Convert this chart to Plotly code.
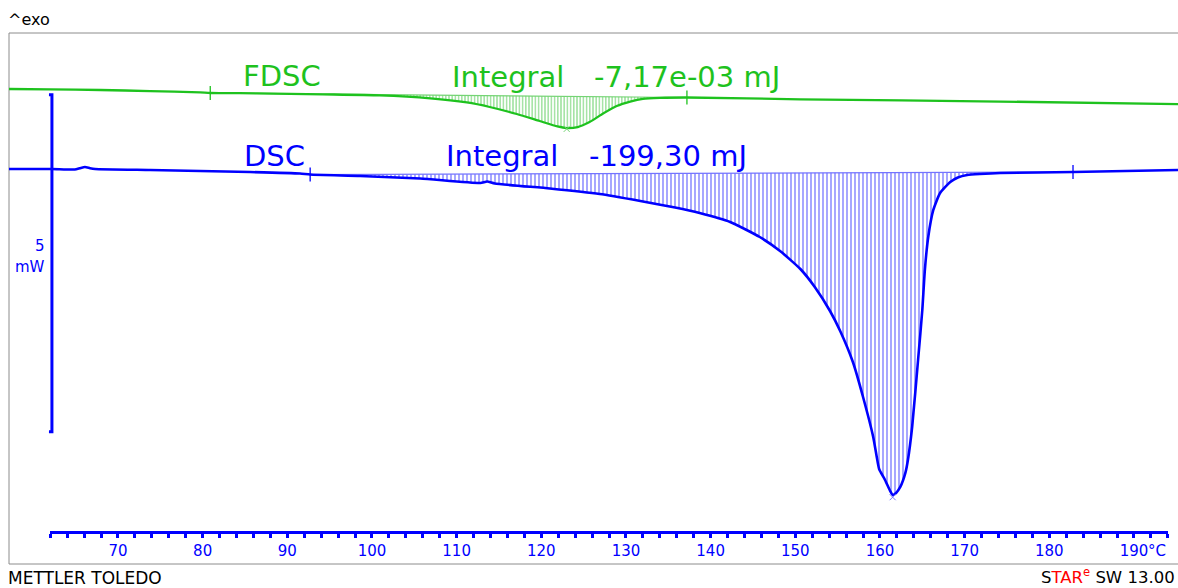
import numpy as np
import plotly.graph_objects as go

# ---------------- data (temperature in °C, heat flow in mW, curves shown with display offsets) -------------
DSC_T = [57.13, 62.2, 64.9, 65.5, 66.1, 66.7, 67.3, 73.8, 79.7, 85.6, 91.5, 92.7, 98.6, 105.7,
         112.8, 113.6, 114.5, 121.0, 126.9, 131.7, 135.8, 138.7, 142.3, 145.8, 148.2, 150.6,
         152.3, 154.1, 155.3, 156.8, 158.0, 159.2, 159.6, 159.9, 160.6, 161.2, 161.5, 161.9,
         162.4, 163.0, 163.3, 163.8, 164.5, 165.0, 165.3, 165.7, 166.3, 167.1, 168.3, 169.2,
         170.3, 171.8, 174.2, 182.8, 195.2]
DSC_MW = [0.000, 0.000, -0.007, 0.012, 0.030, 0.012, 0.000, -0.015, -0.030, -0.045, -0.067,
          -0.082, -0.104, -0.141, -0.208, -0.186, -0.215, -0.289, -0.371, -0.475, -0.571,
          -0.653, -0.786, -1.009, -1.217, -1.484, -1.751, -2.107, -2.404, -2.864, -3.383,
          -3.976, -4.258, -4.451, -4.614, -4.777, -4.837, -4.807, -4.718, -4.510, -4.318,
          -3.828, -2.834, -2.092, -1.499, -1.009, -0.608, -0.356, -0.193, -0.126, -0.089,
          -0.074, -0.059, -0.045, -0.015]

FDSC_T = [57.13, 62.0, 67.9, 73.8, 79.7, 80.9, 86.4, 94.2, 100.9, 106.9, 111.2, 113.9, 117.1,
          119.8, 121.9, 123.0, 124.3, 125.7, 127.3, 128.9, 130.5, 132.0, 134.0, 137.2, 150.6,
          174.2, 195.2]
FDSC_MW = [1.187, 1.182, 1.172, 1.157, 1.138, 1.128, 1.123, 1.108, 1.093, 1.049, 0.987, 0.920,
           0.816, 0.712, 0.631, 0.608, 0.623, 0.697, 0.823, 0.935, 1.001, 1.042, 1.056, 1.061,
           1.034, 1.001, 0.964]

DSC_LIMITS_T = [92.7, 182.8]
DSC_LIMITS_MW = [-0.082, -0.045]
FDSC_LIMITS_T = [80.9, 137.2]
FDSC_LIMITS_MW = [1.128, 1.061]
DSC_PEAK_T, DSC_PEAK_MW = [161.5], [-4.87]
FDSC_PEAK_T, FDSC_PEAK_MW = [123.0], [0.595]

SCALE_T = 62.2
SCALE_TOP_MW = 1.10
SCALE_SPAN_MW = 5.0

X_TICK_START, X_TICK_END = 62, 194
X_MAJOR, X_MINOR = 10, 2

FDSC_LABEL = "FDSC"
FDSC_INTEGRAL = "-7,17e-03 mJ"
DSC_LABEL = "DSC"
DSC_INTEGRAL = "-199,30 mJ"

# ---------------- layout constants ----------------
W, H = 1178, 588
FL, FT, FB = 9, 33, 564          # frame left / top / bottom (px)
X_RANGE = [57.13, 195.2]
Y_RANGE = [-5.861, 2.018]
AXIS_MW = -5.386

BLUE = "#0000ff"
BLUE_LIGHT = "#7474ff"
GREEN = "#1ec21e"
GREEN_LIGHT = "#74d474"
FRAME = "#8c8c8c"


def px(x):
    return (x - FL) / (W - FL)


def py(y):
    return (FB - y) / (FB - FT)


def hatch_polygon(T, V, lim_t, lim_v):
    T = np.asarray(T)
    V = np.asarray(V)
    m = (T >= lim_t[0]) & (T <= lim_t[1])
    xs = [lim_t[0]] + list(T[m]) + [lim_t[1]]
    ys = [lim_v[0]] + list(V[m]) + [lim_v[1]]
    return xs, ys


fig = go.Figure()

# dummy trace carrying the temperature axis (drawn first so its subplot sits underneath)
fig.add_trace(go.Scatter(x=[X_TICK_START, X_TICK_END], y=[AXIS_MW, AXIS_MW], xaxis="x2",
                         mode="lines", line=dict(width=0), opacity=0,
                         showlegend=False, hoverinfo="skip"))

# hatched integration areas
for T, V, lt, lv, col, size in [
    (DSC_T, DSC_MW, DSC_LIMITS_T, DSC_LIMITS_MW, BLUE_LIGHT, 4),
    (FDSC_T, FDSC_MW, FDSC_LIMITS_T, FDSC_LIMITS_MW, GREEN_LIGHT, 3.2),
]:
    hx, hy = hatch_polygon(T, V, lt, lv)
    fig.add_trace(go.Scatter(
        x=hx, y=hy, mode="lines", fill="toself", line=dict(width=0),
        fillcolor="rgba(0,0,0,0)",
        fillpattern=dict(shape="|", size=size, solidity=0.32, fgcolor=col,
                         bgcolor="rgba(0,0,0,0)", fillmode="replace"),
        hoverinfo="skip", showlegend=False))
    # integration baseline
    fig.add_trace(go.Scatter(x=lt, y=lv, mode="lines", line=dict(color=col, width=1.2),
                             hoverinfo="skip", showlegend=False))

# curves
fig.add_trace(go.Scatter(x=FDSC_T, y=FDSC_MW, mode="lines",
                         line=dict(color=GREEN, width=2.3, shape="spline", smoothing=0.6),
                         showlegend=False))
fig.add_trace(go.Scatter(x=DSC_T, y=DSC_MW, mode="lines",
                         line=dict(color=BLUE, width=2.6, shape="spline", smoothing=0.5),
                         showlegend=False))

# integration limit markers
fig.add_trace(go.Scatter(x=FDSC_LIMITS_T, y=FDSC_LIMITS_MW, mode="markers",
                         marker=dict(symbol="line-ns", size=10, line=dict(color=GREEN, width=1.3)),
                         showlegend=False, hoverinfo="skip"))
fig.add_trace(go.Scatter(x=DSC_LIMITS_T, y=DSC_LIMITS_MW, mode="markers",
                         marker=dict(symbol="line-ns", size=10, line=dict(color=BLUE, width=1.3)),
                         showlegend=False, hoverinfo="skip"))
# peak markers
fig.add_trace(go.Scatter(x=FDSC_PEAK_T, y=FDSC_PEAK_MW, mode="markers",
                         marker=dict(symbol="x-thin", size=6, line=dict(color=GREEN_LIGHT, width=1)),
                         showlegend=False, hoverinfo="skip"))
fig.add_trace(go.Scatter(x=DSC_PEAK_T, y=DSC_PEAK_MW, mode="markers",
                         marker=dict(symbol="x-thin", size=6, line=dict(color=BLUE_LIGHT, width=1)),
                         showlegend=False, hoverinfo="skip"))

# scale bar (5 mW)
sb_bot = SCALE_TOP_MW - SCALE_SPAN_MW
fig.add_trace(go.Scatter(
    x=[SCALE_T - 0.35, SCALE_T, SCALE_T, SCALE_T - 0.35],
    y=[SCALE_TOP_MW, SCALE_TOP_MW, sb_bot, sb_bot],
    mode="lines", line=dict(color=BLUE, width=3), showlegend=False, hoverinfo="skip"))

span = X_RANGE[1] - X_RANGE[0]
dom2 = [(X_TICK_START - X_RANGE[0]) / span, (X_TICK_END - X_RANGE[0]) / span]
axis_pos = (AXIS_MW - Y_RANGE[0]) / (Y_RANGE[1] - Y_RANGE[0])

TICKFONT = dict(family="DejaVu Sans", size=15, color=BLUE)

fig.update_layout(
    width=W, height=H,
    margin=dict(l=FL, r=0, t=FT, b=H - FB, pad=0),
    paper_bgcolor="white", plot_bgcolor="rgba(0,0,0,0)",
    showlegend=False,
    xaxis=dict(range=X_RANGE, visible=False, fixedrange=True),
    yaxis=dict(range=Y_RANGE, visible=False, fixedrange=True),
    xaxis2=dict(
        domain=dom2, range=[X_TICK_START, X_TICK_END], anchor="free", position=axis_pos,
        showline=True, linecolor=BLUE, linewidth=3, showgrid=False, zeroline=False,
        tickmode="linear", tick0=70, dtick=X_MAJOR,
        ticks="outside", ticklen=4, tickwidth=2.5, tickcolor=BLUE,
        minor=dict(tick0=X_TICK_START, dtick=X_MINOR, ticks="outside", ticklen=4,
                   tickwidth=2.5, tickcolor=BLUE, showgrid=False),
        tickfont=TICKFONT, automargin=False, fixedrange=True,
    ),
)

# frame
for x0, y0, x1, y1 in [(0, 0, 0, 1), (0, 1, 1, 1), (0, 0, 1, 0)]:
    fig.add_shape(type="line", xref="paper", yref="paper", x0=x0, y0=y0, x1=x1, y1=y1,
                  line=dict(color=FRAME, width=1), layer="below")

BIG = 29
ann = [
    dict(text=FDSC_LABEL, x=px(242), y=py(76), xanchor="left", font=dict(size=BIG, color=GREEN)),
    dict(text="Integral", x=px(451), y=py(77), xanchor="left", font=dict(size=BIG, color=GREEN)),
    dict(text=FDSC_INTEGRAL, x=px(593), y=py(77), xanchor="left", font=dict(size=BIG, color=GREEN)),
    dict(text=DSC_LABEL, x=px(243), y=py(156), xanchor="left", font=dict(size=BIG, color=BLUE)),
    dict(text="Integral", x=px(445), y=py(156), xanchor="left", font=dict(size=BIG, color=BLUE)),
    dict(text=DSC_INTEGRAL, x=px(588), y=py(156), xanchor="left", font=dict(size=BIG, color=BLUE)),
    dict(text="5", x=px(46), y=py(246), xanchor="right", font=dict(size=15, color=BLUE)),
    dict(text="mW", x=px(46), y=py(267), xanchor="right", font=dict(size=15, color=BLUE)),
    dict(text="°C", x=px(1147), y=py(551), xanchor="left", font=dict(size=15, color=BLUE)),
    dict(text="^exo", x=px(7), y=py(20), xanchor="left",
         font=dict(family="DejaVu Sans", size=16, color="black")),
    dict(text="METTLER TOLEDO", x=px(7), y=py(578), xanchor="left",
         font=dict(family="DejaVu Sans", size=17, color="black")),
    dict(text="S<span style='color:#ff0000'>TAR</span><sup><span style='color:#ff0000'>e</span></sup> SW 13.00",
         x=px(1176), y=py(576), xanchor="right",
         font=dict(family="DejaVu Sans", size=16.5, color="black")),
]
for a in ann:
    f = a.pop("font")
    f.setdefault("family", "DejaVu Sans")
    fig.add_annotation(xref="paper", yref="paper", yanchor="middle", showarrow=False,
                       borderpad=0, font=f, **a)

fig.write_html("out.html")
